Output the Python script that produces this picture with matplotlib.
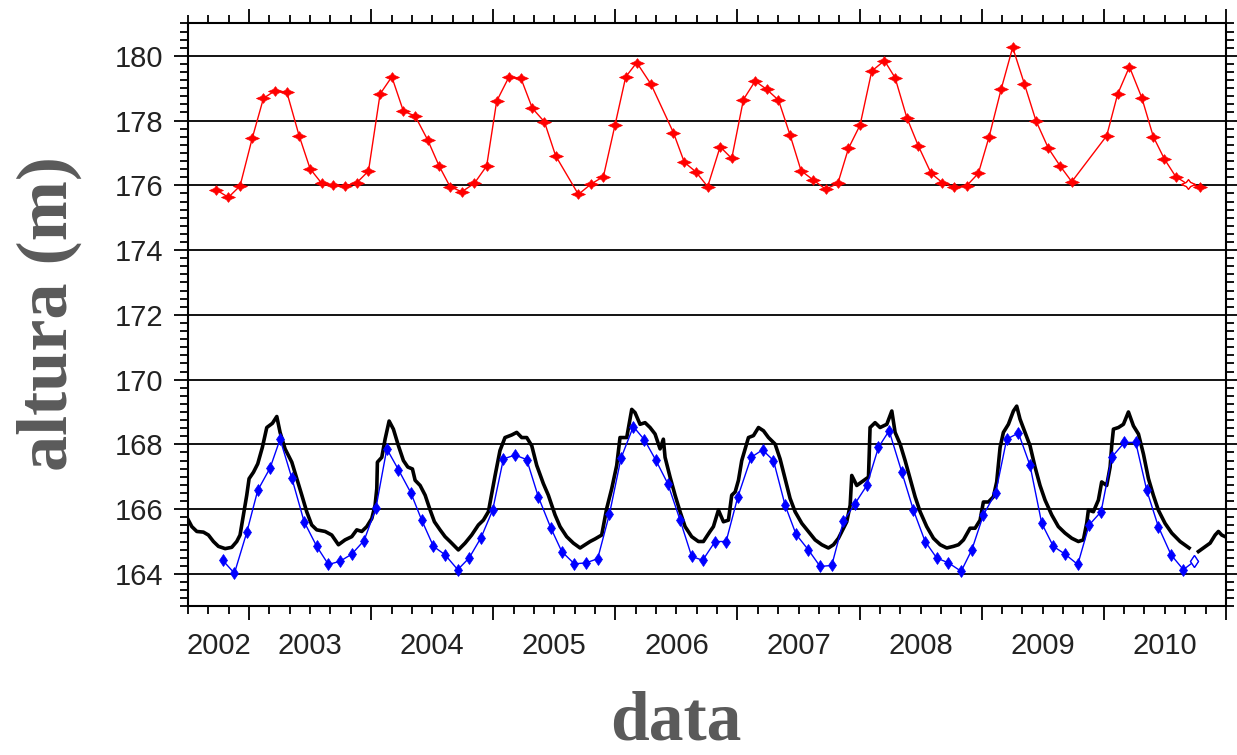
import matplotlib
matplotlib.use("Agg")
import matplotlib.pyplot as plt
from matplotlib.ticker import MultipleLocator, NullFormatter
import numpy as np

# red series (upper reservoir level), decimal year / metres
red_t = [2002.730, 2002.831, 2002.926, 2003.027, 2003.118, 2003.213, 2003.309,
         2003.410, 2003.500, 2003.595, 2003.691, 2003.786, 2003.882, 2003.978,
         2004.073, 2004.169, 2004.264, 2004.360, 2004.463, 2004.556, 2004.646,
         2004.742, 2004.845, 2004.946, 2005.028, 2005.129, 2005.227, 2005.320,
         2005.419, 2005.511, 2005.697, 2005.801, 2005.902, 2005.997, 2006.085,
         2006.175, 2006.292, 2006.475, 2006.565, 2006.658, 2006.756, 2006.858,
         2006.953, 2007.049, 2007.145, 2007.240, 2007.336, 2007.431, 2007.521,
         2007.622, 2007.723, 2007.822, 2007.909, 2008.004, 2008.100, 2008.204,
         2008.291, 2008.387, 2008.482, 2008.586, 2008.679, 2008.777, 2008.878,
         2008.973, 2009.061, 2009.159, 2009.254, 2009.350, 2009.445, 2009.547,
         2009.642, 2009.738, 2010.024, 2010.114, 2010.210, 2010.311, 2010.406,
         2010.497, 2010.589, 2010.688, 2010.789]
red_h = [175.86, 175.63, 175.98, 177.47, 178.69, 178.92, 178.88,
         177.53, 176.51, 176.06, 176.00, 175.98, 176.08, 176.44,
         178.82, 179.35, 178.29, 178.14, 177.40, 176.60, 175.96,
         175.80, 176.06, 176.60, 178.60, 179.35, 179.30, 178.38,
         177.96, 176.91, 175.72, 176.04, 176.27, 177.86, 179.35,
         179.79, 179.12, 177.63, 176.71, 176.42, 175.96, 177.19,
         176.83, 178.65, 179.22, 178.96, 178.63, 177.55, 176.45,
         176.16, 175.88, 176.06, 177.14, 177.86, 179.53, 179.85,
         179.32, 178.09, 177.21, 176.37, 176.08, 175.94, 175.99,
         176.37, 177.50, 178.96, 180.26, 179.13, 177.99, 177.14,
         176.60, 176.11, 177.53, 178.82, 179.66, 178.71, 177.50,
         176.81, 176.27, 176.03, 175.96]

# blue series (altimetry at lower station)
blue_t = [2002.784, 2002.880, 2002.981, 2003.071, 2003.172, 2003.254, 2003.350,
          2003.451, 2003.554, 2003.650, 2003.745, 2003.841, 2003.942, 2004.038,
          2004.128, 2004.223, 2004.324, 2004.414, 2004.510, 2004.605, 2004.709,
          2004.802, 2004.900, 2004.995, 2005.083, 2005.178, 2005.274, 2005.369,
          2005.470, 2005.561, 2005.664, 2005.760, 2005.855, 2005.951, 2006.046,
          2006.147, 2006.238, 2006.330, 2006.429, 2006.530, 2006.625, 2006.715,
          2006.817, 2006.907, 2007.003, 2007.112, 2007.205, 2007.295, 2007.390,
          2007.480, 2007.581, 2007.677, 2007.772, 2007.868, 2007.963, 2008.059,
          2008.155, 2008.242, 2008.346, 2008.441, 2008.537, 2008.632, 2008.728,
          2008.832, 2008.919, 2009.014, 2009.115, 2009.205, 2009.301, 2009.396,
          2009.492, 2009.587, 2009.683, 2009.787, 2009.880, 2009.978, 2010.065,
          2010.169, 2010.262, 2010.352, 2010.447, 2010.551, 2010.652, 2010.742]
blue_h = [164.42, 164.02, 165.28, 166.58, 167.27, 168.16, 166.96,
          165.61, 164.85, 164.29, 164.39, 164.61, 165.03, 166.02,
          167.86, 167.22, 166.51, 165.66, 164.85, 164.59, 164.13,
          164.49, 165.12, 165.97, 167.55, 167.67, 167.53, 166.38,
          165.43, 164.69, 164.31, 164.34, 164.47, 165.84, 167.57,
          168.55, 168.14, 167.52, 166.79, 165.66, 164.54, 164.42,
          165.00, 165.00, 166.38, 167.60, 167.83, 167.50, 166.12,
          165.22, 164.74, 164.23, 164.26, 165.63, 166.17, 166.73,
          167.91, 168.42, 167.14, 165.97, 165.00, 164.49, 164.34,
          164.08, 164.74, 165.82, 166.51, 168.16, 168.35, 167.35,
          165.56, 164.85, 164.61, 164.29, 165.51, 165.92, 167.60,
          168.06, 168.06, 166.58, 165.46, 164.59, 164.13, 164.39]

# black series (gauge, daily), nan marks the data gap
black_t = [2002.503, 2002.531, 2002.572, 2002.626, 2002.667, 2002.708, 2002.749,
           2002.804, 2002.858, 2002.899, 2002.926, 2002.954, 2002.981, 2003.000,
           2003.036, 2003.071, 2003.109, 2003.145, 2003.191, 2003.227, 2003.254,
           2003.295, 2003.350, 2003.391, 2003.432, 2003.472, 2003.513, 2003.554,
           2003.623, 2003.677, 2003.732, 2003.786, 2003.841, 2003.882, 2003.923,
           2003.964, 2004.005, 2004.032, 2004.046, 2004.051, 2004.087, 2004.114,
           2004.147, 2004.182, 2004.223, 2004.264, 2004.300, 2004.338, 2004.360,
           2004.401, 2004.442, 2004.483, 2004.518, 2004.564, 2004.605, 2004.646,
           2004.714, 2004.769, 2004.823, 2004.878, 2004.919, 2004.960, 2005.015,
           2005.055, 2005.096, 2005.151, 2005.192, 2005.233, 2005.274, 2005.315,
           2005.356, 2005.410, 2005.451, 2005.506, 2005.547, 2005.601, 2005.656,
           2005.711, 2005.752, 2005.793, 2005.834, 2005.888, 2005.929, 2005.970,
           2006.011, 2006.038, 2006.093, 2006.134, 2006.161, 2006.202, 2006.243,
           2006.284, 2006.325, 2006.366, 2006.393, 2006.407, 2006.448, 2006.489,
           2006.530, 2006.571, 2006.625, 2006.680, 2006.721, 2006.775, 2006.803,
           2006.844, 2006.885, 2006.926, 2006.953, 2006.981, 2007.008, 2007.035,
           2007.063, 2007.090, 2007.131, 2007.172, 2007.213, 2007.254, 2007.308,
           2007.349, 2007.390, 2007.431, 2007.472, 2007.527, 2007.581, 2007.636,
           2007.691, 2007.745, 2007.786, 2007.827, 2007.868, 2007.895, 2007.923,
           2007.936, 2007.977, 2008.018, 2008.073, 2008.086, 2008.127, 2008.168,
           2008.223, 2008.264, 2008.291, 2008.332, 2008.373, 2008.414, 2008.455,
           2008.496, 2008.550, 2008.605, 2008.660, 2008.714, 2008.769, 2008.810,
           2008.851, 2008.905, 2008.946, 2008.987, 2009.014, 2009.055, 2009.096,
           2009.123, 2009.151, 2009.178, 2009.219, 2009.260, 2009.287, 2009.314,
           2009.355, 2009.396, 2009.437, 2009.478, 2009.519, 2009.574, 2009.628,
           2009.683, 2009.738, 2009.792, 2009.833, 2009.860, 2009.874, 2009.915,
           2009.956, 2009.983, 2010.024, 2010.052, 2010.065, 2010.079, 2010.120,
           2010.161, 2010.202, 2010.243, 2010.284, 2010.325, 2010.366, 2010.406,
           2010.447, 2010.502, 2010.557, 2010.625, 2010.680, 2010.699, 2010.740,
           2010.775, 2010.816, 2010.871, 2010.912, 2010.939, 2010.966, 2010.994]
black_h = [165.66, 165.46, 165.31, 165.29, 165.20, 165.00, 164.85,
           164.78, 164.82, 165.00, 165.20, 165.82, 166.43, 166.94,
           167.14, 167.40, 167.91, 168.52, 168.65, 168.86, 168.37,
           167.86, 167.45, 166.94, 166.43, 165.92, 165.51, 165.36,
           165.31, 165.20, 164.90, 165.05, 165.15, 165.36, 165.31,
           165.46, 165.71, 166.12, 166.63, 167.45, 167.60, 168.16,
           168.72, 168.47, 167.96, 167.50, 167.30, 167.24, 166.89,
           166.73, 166.43, 165.97, 165.61, 165.36, 165.15, 165.00,
           164.74, 164.95, 165.20, 165.51, 165.66, 165.92, 167.04,
           167.81, 168.21, 168.29, 168.37, 168.21, 168.21, 167.96,
           167.35, 166.79, 166.43, 165.82, 165.46, 165.15, 164.95,
           164.80, 164.90, 165.00, 165.08, 165.20, 166.02, 166.63,
           167.35, 168.21, 168.21, 169.08, 168.98, 168.62, 168.67,
           168.52, 168.32, 167.86, 168.16, 167.60, 166.99, 166.43,
           165.92, 165.46, 165.15, 165.00, 165.00, 165.31, 165.46,
           165.97, 165.61, 165.66, 166.43, 166.53, 166.89, 167.50,
           167.86, 168.21, 168.27, 168.52, 168.42, 168.21, 168.01,
           167.55, 166.94, 166.33, 165.92, 165.56, 165.31, 165.05,
           164.90, 164.80, 164.90, 165.10, 165.41, 165.61, 166.12,
           167.04, 166.73, 166.84, 166.99, 168.52, 168.67, 168.52,
           168.62, 169.03, 168.37, 168.01, 167.50, 166.94, 166.38,
           165.92, 165.46, 165.10, 164.90, 164.80, 164.85, 164.90,
           165.05, 165.41, 165.41, 165.66, 166.22, 166.22, 166.38,
           166.84, 167.91, 168.37, 168.62, 169.03, 169.18, 168.78,
           168.37, 167.96, 167.30, 166.73, 166.28, 165.82, 165.46,
           165.26, 165.10, 165.00, 165.05, 165.56, 165.97, 165.92,
           166.28, 166.84, 166.73, 167.30, 167.96, 168.47, 168.52,
           168.62, 169.00, 168.57, 168.32, 167.70, 166.94, 166.43,
           165.97, 165.56, 165.26, 165.00, 164.85, 164.80, np.nan,
           164.69, 164.80, 164.95, 165.20, 165.31, 165.20, 165.15]

years = list(range(2002, 2011))
y_ticks = list(range(164, 181, 2))

# star-like marker used by the red series
red_marker = [(-1, 0), (-0.3, 0.3), (0, 0.7), (0.3, 0.3), (1, 0),
              (0.3, -0.3), (0, -0.7), (-0.3, -0.3), (-1, 0)]

fig = plt.figure(figsize=(12.37, 7.55), dpi=100)
ax = fig.add_axes([0.152, 0.197, 0.839, 0.772])

for yv in y_ticks:
    ax.axhline(yv, color='black', lw=1.3, zorder=1)

ax.plot(black_t, black_h, color='black', lw=2.6, zorder=2)
ax.plot(blue_t, blue_h, color='#0000ff', lw=1.0, marker='d',
        markersize=6, markeredgewidth=0.5, zorder=3)
ax.plot(red_t, red_h, color='#ff0000', lw=1.0, marker=red_marker,
        markersize=10, markeredgewidth=0.5, zorder=3)
# last-but-one points drawn hollow as in the original
ax.plot(red_t[-2], red_h[-2], marker=red_marker, markersize=10,
        mfc='white', mec='#ff0000', zorder=4)
ax.plot(blue_t[-1], blue_h[-1], marker='d', markersize=6,
        mfc='white', mec='#0000ff', zorder=4)

ax.set_xlim(2002.5, 2011.0)
ax.set_ylim(163.0, 181.0)

ax.xaxis.set_major_locator(MultipleLocator(1))
ax.xaxis.set_minor_locator(MultipleLocator(1 / 6))
ax.xaxis.set_major_formatter(NullFormatter())
ax.yaxis.set_major_locator(MultipleLocator(2))
ax.yaxis.set_minor_locator(MultipleLocator(0.25))

ax.tick_params(which='both', direction='out', top=True, right=True,
               width=1.3, color='black')
ax.tick_params(which='major', length=10)
ax.tick_params(which='minor', length=6)
ax.tick_params(axis='y', labelsize=21, labelcolor='#222222', pad=8)
for s in ax.spines.values():
    s.set_linewidth(1.5)

for lab in ax.get_yticklabels():
    lab.set_fontfamily(['Liberation Sans', 'DejaVu Sans'])

# year labels centred on the visible part of each year
for yr in years:
    c = max(yr, 2002.5) / 2 + (yr + 1) / 2
    ax.text(c, -0.045, str(yr), transform=ax.get_xaxis_transform(),
            ha='center', va='top', fontsize=21, color='#222222',
            family=['Liberation Sans', 'DejaVu Sans'])

fig.text(0.040, 0.585, 'altura (m)', rotation=90, ha='center', va='center',
         fontsize=52, fontweight='bold', color='#5a5a5a',
         family=['Liberation Serif', 'DejaVu Serif'])
fig.text(0.5465, 0.001, 'data', ha='center', va='bottom',
         fontsize=50, fontweight='bold', color='#5a5a5a',
         family=['Liberation Serif', 'DejaVu Serif'])

fig.savefig('out.png', dpi=100)
